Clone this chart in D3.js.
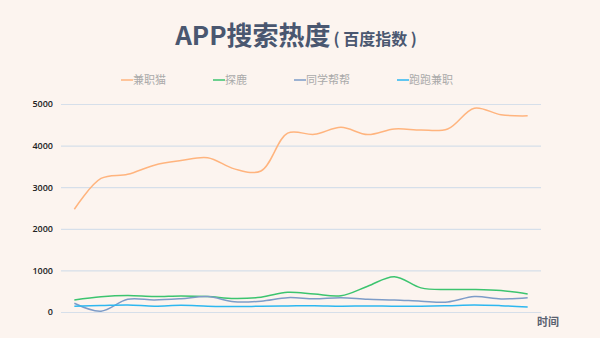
<!DOCTYPE html>
<html>
<head>
<meta charset="utf-8">
<script src="https://cdn.jsdelivr.net/npm/d3@7/dist/d3.min.js"></script>
<style>
  body { margin: 0; background: #fcf4ef; }
  svg { display: block; font-family: "Noto Sans CJK SC", "Noto Sans", sans-serif; }
</style>
</head>
<body>
<script>
// chart data
var periods = d3.range(1, 19);
var seriesNames = ["兼职猫", "探鹿", "同学帮帮", "跑跑兼职"];
var seriesColors = ["#ffb47e", "#3cc46f", "#7d9cc8", "#2db7f0"];

var jianzhimao = [2470, 3210, 3310, 3530, 3640, 3710, 3440, 3390, 4300, 4270, 4440, 4265, 4400, 4375, 4400, 4900, 4740, 4715];
var tanlu = [290, 365, 395, 370, 385, 370, 325, 355, 475, 430, 390, 620, 850, 580, 540, 540, 515, 435];
var tongxue = [210, 20, 305, 290, 320, 370, 245, 260, 345, 320, 345, 305, 290, 260, 240, 370, 315, 345];
var paopao = [140, 155, 170, 140, 160, 140, 130, 138, 145, 152, 138, 145, 138, 140, 152, 168, 152, 122];

var yTicks = [0, 1000, 2000, 3000, 4000, 5000];

var allSeries = [jianzhimao, tanlu, tongxue, paopao];

var w = 600, h = 338;
var margin = { left: 61, right: 59, top: 104, bottom: 26 };

var svg = d3.select("body").append("svg")
  .attr("width", w)
  .attr("height", h);

var x = d3.scaleBand()
  .domain(periods)
  .range([margin.left, w - margin.right]);

var y = d3.scaleLinear()
  .domain([0, 5000])
  .range([h - margin.bottom, margin.top]);

// title
var title = svg.append("text")
  .attr("x", 296)
  .attr("y", 45)
  .attr("text-anchor", "middle")
  .attr("fill", "#4a5770")
  .attr("font-weight", "bold");
title.append("tspan").attr("font-size", "26px").text("APP搜索热度");
title.append("tspan").attr("font-size", "16px").attr("dx", 3).text("( 百度指数 )");

// gridlines + y labels
var yAxis = d3.axisLeft(y)
  .tickValues(yTicks)
  .tickFormat(d3.format("d"))
  .tickSize(-(w - margin.left - margin.right))
  .tickPadding(8);

var gy = svg.append("g")
  .attr("transform", "translate(" + margin.left + ",0)")
  .call(yAxis);
gy.select(".domain").remove();
gy.selectAll(".tick line").attr("stroke", "#d6dfea").attr("stroke-width", 1.2);
gy.selectAll(".tick text")
  .attr("fill", "#222")
  .attr("font-size", "9px")
  .attr("font-family", "Open Sans, sans-serif")
  .attr("font-weight", "600");

// x axis name
svg.append("text")
  .attr("x", 537)
  .attr("y", 326)
  .attr("fill", "#5a6170")
  .attr("font-size", "11px")
  .attr("font-weight", "bold")
  .text("时间");

// lines
var line = d3.line()
  .x(function(d, i) { return x(periods[i]) + x.bandwidth() / 2; })
  .y(function(d) { return y(d); })
  .curve(d3.curveCatmullRom.alpha(0.5));

svg.selectAll("path.series")
  .data(allSeries)
  .enter()
  .append("path")
  .attr("class", "series")
  .attr("d", line)
  .attr("fill", "none")
  .attr("stroke", function(d, i) { return seriesColors[i]; })
  .attr("stroke-width", 1.5);

// legend
var legendX = [121, 213, 294, 397];
var lg = svg.selectAll("g.legend")
  .data(seriesNames)
  .enter()
  .append("g")
  .attr("class", "legend")
  .attr("transform", function(d, i) { return "translate(" + legendX[i] + ",80)"; });

lg.append("line")
  .attr("x1", 0).attr("x2", 12)
  .attr("y1", 0).attr("y2", 0)
  .attr("stroke", function(d, i) { return seriesColors[i]; })
  .attr("stroke-width", 1.5);

lg.append("text")
  .attr("x", 12)
  .attr("y", 4)
  .attr("fill", "#aaa")
  .attr("font-size", "11px")
  .text(function(d) { return d; });
</script>
</body>
</html>
